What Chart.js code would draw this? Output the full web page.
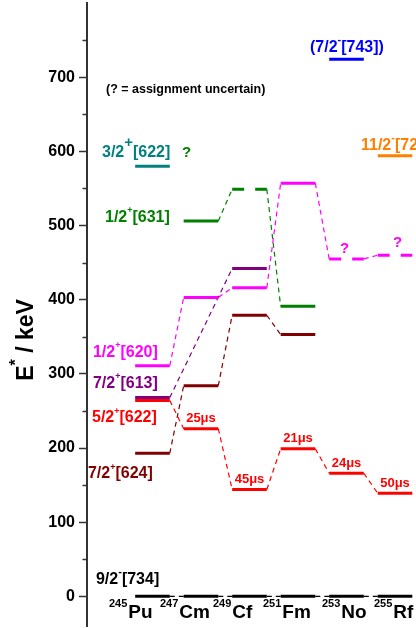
<!DOCTYPE html>
<html>
<head>
<meta charset="utf-8">
<title>Single-particle levels in N = 151 isotones</title>
<script src="https://cdn.jsdelivr.net/npm/chart.js@4/dist/chart.umd.min.js"></script>
<style>
  html, body { margin: 0; padding: 0; background: #fff; overflow: hidden; }
  #wrap { width: 416px; height: 628px; position: relative; }
</style>
</head>
<body>
<div id="wrap"><canvas id="levels"></canvas></div>
<script>
// ---- data ---------------------------------------------------------------
// N = 151 isotones
const massNumbers = [245, 247, 249, 251, 253, 255];
const elements    = ['Pu', 'Cm', 'Cf', 'Fm', 'No', 'Rf'];

// y-axis ticks (keV); labelled every 100
const yTickValues = [0, 50, 100, 150, 200, 250, 300, 350, 400, 450, 500, 550, 600, 650, 700, 750];
const yTickLabels = ['0', '', '100', '', '200', '', '300', '', '400', '', '500', '', '600', '', '700', ''];

// excitation energies E* (keV) per isotone, null = level not shown
const level_9_2m_734  = [0, 0, 0, 0, 0, 0];
const level_5_2p_622  = [264, 226, 144, 199, 166, 139];
const level_7_2p_624  = [193, 284, 379, 353, null, null];
const level_7_2p_613  = [268, null, 442, null, null, null];
const level_1_2p_620  = [311, 403, 416, 557, 455, 460];
const level_1_2p_631  = [null, 506, 549, 391, null, null];
const level_3_2p_622  = [580, null, null, null, null, null];
const level_7_2m_743  = [null, null, null, null, 724, null];
const level_11_2m_725 = [null, null, null, null, null, 594];

// tentative assignments (drawn dashed)
const uncertain_1_2p_620 = [false, false, false, false, true, true];
const uncertain_1_2p_631 = [false, false, true, false, false, false];

// isomer half-lives of the 5/2+[622] state
const halfLives_5_2p_622 = [null, '25μs', '45μs', '21μs', '24μs', '50μs'];

// ---- styling --------------------------------------------------------------
const FONT = "'Liberation Sans', Arial, Helvetica, sans-serif";
const HALF = 0.357;           // half-width of a level bar, in isotone units

const series = [
  { values: level_9_2m_734,  color: '#000000', connector: '#000000' },
  { values: level_5_2p_622,  color: '#ff0000', connector: '#ff0000' },
  { values: level_7_2p_624,  color: '#800000', connector: '#800000' },
  { values: level_7_2p_613,  color: '#800080', connector: '#800080' },
  { values: level_1_2p_620,  color: '#ff00ff', connector: '#ff00ff', uncertain: uncertain_1_2p_620 },
  { values: level_1_2p_631,  color: '#008000', connector: '#008000', uncertain: uncertain_1_2p_631 },
  { values: level_3_2p_622,  color: '#008080', connector: '#008080' },
  { values: level_7_2m_743,  color: '#0000ff', connector: '#0000ff' },
  { values: level_11_2m_725, color: '#ff8000', connector: '#ff8000' }
];

function levelPoints(vals) {
  const pts = [], idx = [];
  vals.forEach((v, i) => {
    if (v == null) return;
    pts.push({ x: i - HALF, y: v }, { x: i + HALF, y: v }, { x: i + HALF, y: null });
    idx.push(i);
  });
  return { pts, idx };
}

function connectorPoints(vals) {
  const pts = [];
  let prev = null;
  vals.forEach((v, i) => {
    if (v == null) return;
    if (prev != null) {
      pts.push({ x: prev + HALF, y: vals[prev] }, { x: i - HALF, y: v }, { x: i - HALF, y: null });
    }
    prev = i;
  });
  return pts;
}

const datasets = [];
series.forEach(s => {
  datasets.push({
    data: connectorPoints(s.values),
    borderColor: s.connector,
    borderWidth: 1.2,
    borderDash: [5, 4],
    pointRadius: 0,
    spanGaps: false,
    order: 2
  });
  const lv = levelPoints(s.values);
  const flags = s.uncertain || [];
  datasets.push({
    data: lv.pts,
    borderColor: s.color,
    borderWidth: 3,
    borderCapStyle: 'butt',
    pointRadius: 0,
    spanGaps: false,
    order: 1,
    segment: {
      borderDash: ctx => flags[lv.idx[Math.floor(ctx.p0DataIndex / 3)]] ? [12, 11] : undefined
    }
  });
});

// text annotations: [text, superscriptSize] runs, anchored in axis units
const stateLabels = [
  { runs: [['3/2'], ['+', 15], ['[622]']], color: '#008080', x: -1.041, y: 592 },
  { runs: [['?']],                         color: '#008000', x: 0.608,  y: 593, size: 15 },
  { runs: [['1/2'], ['+', 9], ['[631]']],  color: '#008000', x: -0.979, y: 505 },
  { runs: [['1/2'], ['+', 9], ['[620]']],  color: '#ff00ff', x: -1.227, y: 323 },
  { runs: [['7/2'], ['+', 9], ['[613]']],  color: '#800080', x: -1.227, y: 281 },
  { runs: [['5/2'], ['+', 9], ['[622]']],  color: '#ff0000', x: -1.247, y: 235 },
  { runs: [['7/2'], ['+', 9], ['[624]']],  color: '#800000', x: -1.330, y: 159 },
  { runs: [['9/2'], ['-', 11], ['[734]']], color: '#000000', x: -1.165, y: 17 },
  { runs: [['(7/2'], ['-', 11], ['[743])']], color: '#0000ff', x: 3.247, y: 734 },
  { runs: [['11/2'], ['-', 11], ['[725]']], color: '#ff8000', x: 4.299, y: 602 },
  { runs: [['?']], color: '#ff00ff', x: 3.866, y: 463, size: 15 },
  { runs: [['?']], color: '#ff00ff', x: 4.959, y: 471, size: 15 },
  { runs: [['(? = assignment uncertain)']], color: '#000000', x: -0.959, y: 679, size: 12.5 }
];

// left edge of each isotope name, in isotone units
const nuclideLabelX = [-0.897, 0.155, 1.247, 2.278, 3.495, 4.567];

function drawRuns(ctx, px, py, runs, color, base, align) {
  const widths = runs.map(r => {
    ctx.font = `bold ${r[1] || base}px ${FONT}`;
    return ctx.measureText(r[0]).width;
  });
  const total = widths.reduce((a, b) => a + b, 0);
  let cx = align === 'center' ? px - total / 2 : px;
  ctx.fillStyle = color;
  ctx.textAlign = 'left';
  ctx.textBaseline = 'alphabetic';
  runs.forEach((r, k) => {
    const sup = !!r[1];
    ctx.font = `bold ${sup ? r[1] : base}px ${FONT}`;
    const off = sup ? (r[1] >= 14 ? -10.5 : -8.5) : 0;
    ctx.fillText(r[0], cx, py + off);
    cx += widths[k];
  });
}

const annotate = {
  id: 'annotate',
  afterDraw(chart) {
    const { ctx, scales: { x, y } } = chart;
    ctx.save();

    // minor ticks on the energy axis
    ctx.strokeStyle = '#333';
    ctx.lineWidth = 1.5;
    yTickValues.forEach(v => {
      if (v % 100 === 0) return;
      const py = Math.round(y.getPixelForValue(v)) + 0.5;
      ctx.beginPath();
      ctx.moveTo(chart.chartArea.left - 4.5, py);
      ctx.lineTo(chart.chartArea.left, py);
      ctx.stroke();
    });

    // state labels and notes
    stateLabels.forEach(l => {
      drawRuns(ctx, x.getPixelForValue(l.x), y.getPixelForValue(l.y), l.runs, l.color, l.size || 16, 'left');
    });

    // isomer half-lives above the 5/2+[622] levels
    halfLives_5_2p_622.forEach((t, i) => {
      if (!t) return;
      const px = x.getPixelForValue(i);
      const py = y.getPixelForValue(level_5_2p_622[i]) - 6.5;
      drawRuns(ctx, px, py, [[t]], '#ff0000', 13, 'center');
    });

    // isotope names below the ground states
    const baseY = y.getPixelForValue(0) + 22;
    massNumbers.forEach((a, i) => {
      let px = x.getPixelForValue(nuclideLabelX[i]);
      ctx.fillStyle = '#000';
      ctx.textAlign = 'left';
      ctx.textBaseline = 'alphabetic';
      ctx.font = `bold 11px ${FONT}`;
      ctx.fillText(String(a), px, baseY - 11);
      px += ctx.measureText(String(a)).width + 1;
      ctx.font = `bold 19px ${FONT}`;
      ctx.fillText(elements[i], px, baseY);
    });

    // axis title E* / keV
    ctx.translate(33, 340);
    ctx.rotate(-Math.PI / 2);
    const parts = [['E', 23, 0], ['*', 16, -12], [' / keV', 23, 0]];
    let tw = 0;
    parts.forEach(p => { ctx.font = `bold ${p[1]}px ${FONT}`; tw += ctx.measureText(p[0]).width; });
    let cx = -tw / 2;
    ctx.fillStyle = '#000';
    parts.forEach(p => {
      ctx.font = `bold ${p[1]}px ${FONT}`;
      ctx.fillText(p[0], cx, p[2]);
      cx += ctx.measureText(p[0]).width;
    });

    ctx.restore();
  }
};

new Chart(document.getElementById('levels'), {
  type: 'line',
  data: { datasets },
  options: {
    responsive: true,
    maintainAspectRatio: false,
    animation: false,
    events: [],
    layout: { padding: { top: 3, bottom: 2, left: 0, right: 0 } },
    plugins: { legend: { display: false }, tooltip: { enabled: false } },
    scales: {
      x: {
        type: 'linear',
        min: -1.35,
        max: 5.433,
        display: false
      },
      y: {
        type: 'linear',
        min: -40,
        max: 800,
        afterBuildTicks: s => { s.ticks = yTickValues.map(v => ({ value: v })); },
        afterFit: s => { s.width = 87; s.paddingTop = 0; s.paddingBottom = 0; },
        ticks: {
          callback: (v) => yTickLabels[yTickValues.indexOf(v)] ?? '',
          font: { family: FONT, size: 16, weight: 'bold' },
          color: '#000',
          padding: 4
        },
        grid: {
          drawOnChartArea: false,
          drawTicks: true,
          tickLength: 8,
          tickWidth: 1.5,
          tickColor: ctx => (ctx.tick && ctx.tick.value % 100 === 0) ? '#333' : 'rgba(0,0,0,0)'
        },
        border: { color: '#333', width: 2 }
      }
    }
  },
  plugins: [annotate]
});
</script>
</body>
</html>
